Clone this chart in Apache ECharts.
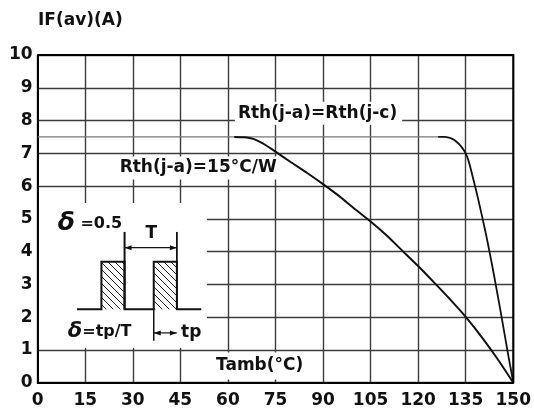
<!DOCTYPE html>
<html><head><meta charset="utf-8">
<script src="https://cdn.jsdelivr.net/npm/echarts@6/dist/echarts.min.js"></script>
<style>html,body{margin:0;padding:0;background:#fff}#c{width:534px;height:418px}</style>
</head><body><div id="c"></div>
<script>
// ---- data ----
const xTicks = [0, 15, 30, 45, 60, 75, 90, 105, 120, 135, 150];
const yTicks = [0, 1, 2, 3, 4, 5, 6, 7, 8, 9, 10];
// Rth(j-a)=15°C/W
const curveAmbient = [[62,7.5],[65,7.49],[68,7.44],[71,7.3],[75,7.05],[80,6.72],[85,6.4],[90,6.06],[95,5.7],[100,5.3],[105,4.92],[110,4.5],[115,4.03],[120,3.56],[125,3.06],[130,2.55],[135,2.01],[140,1.4],[145,0.73],[150,0]];
// Rth(j-a)=Rth(j-c)
const curveCase = [[126.3,7.5],[128,7.5],[130,7.47],[131.5,7.4],[133,7.27],[134,7.15],[135,7.0],[135.8,6.8],[136.6,6.52],[137.5,6.17],[138.5,5.78],[139.5,5.36],[140.5,4.93],[141.5,4.48],[142.5,4.0],[143.5,3.5],[144.5,2.98],[145.5,2.45],[146.5,1.9],[147.5,1.35],[148.5,0.8],[149.3,0.38],[150,0]];
const refLevel = [[0,7.5],[126.3,7.5]];
// inset pulse diagram (in axis units)
const pulseTrain = [[12.4,2.24],[20.1,2.24],[20.1,3.69],[27.4,3.69],[27.4,2.24],[36.6,2.24],[36.6,3.69],[43.9,3.69],[43.9,2.24],[51.6,2.24]];
const pulse1 = [[20.1,2.24],[20.1,3.69],[27.4,3.69],[27.4,2.24]];
const pulse2 = [[36.6,2.24],[36.6,3.69],[43.9,3.69],[43.9,2.24]];
const periodMarks = {left: 27.4, right: 43.9, top: 4.6, bottom: 2.24, arrowY: 4.12};
const tpMarks = {left: 36.6, right: 43.9, bottom: 1.28, arrowY: 1.52};
const insetBox = [[0.4,1.06],[53.4,5.48]];
const texts = {
  title: 'IF(av)(A)',
  caseLabel: 'Rth(j-a)=Rth(j-c)',
  ambLabel: 'Rth(j-a)=15°C/W',
  xName: 'Tamb(°C)',
  delta: 'δ', d05: ' =0.5', dDef: '=tp/T', T: 'T', tp: 'tp'
};
const labelAnchors = {caseLabel:[62.2,8.22], ambLabel:[24.9,6.55], xName:[55.3,0.51], delta1:[6.3,4.85], T:[35.8,4.56], delta2:[9.5,1.55], tp:[45.2,1.52]};

const FONT = 'DejaVu Sans';
const chart = echarts.init(document.getElementById('c'));
const line = (d, w, c, s) => ({type:'line', data:d, showSymbol:false, symbol:'none', smooth:s||false, lineStyle:{color:c, width:w}, z:3, silent:true, animation:false});
chart.setOption({
  animation:false,
  backgroundColor:'#fff',
  title:{text:texts.title, left:33, top:7, textStyle:{fontFamily:FONT, fontWeight:'bold', fontSize:17, color:'#111'}},
  grid:{left:37.7, right:18, top:55, bottom:35.3},
  xAxis:{type:'value', min:0, max:150, interval:15,
    axisLine:{show:true, onZero:false, lineStyle:{color:'#000', width:2}},
    axisTick:{show:false},
    axisLabel:{fontFamily:FONT, fontWeight:'bold', fontSize:17, color:'#111', margin:9,
      formatter:v => xTicks.includes(v) ? String(v) : ''},
    splitLine:{show:true, lineStyle:{color:'#3c3c3c', width:1.4}}},
  yAxis:{type:'value', min:0, max:10, interval:1,
    axisLine:{show:true, onZero:false, lineStyle:{color:'#000', width:2}},
    axisTick:{show:false},
    axisLabel:{fontFamily:FONT, fontWeight:'bold', fontSize:17, color:'#111', margin:5,
      formatter:v => yTicks.includes(v) ? String(v) : ''},
    splitLine:{show:true, lineStyle:{color:'#3c3c3c', width:1.4}}},
  series:[
    line(refLevel, 1.2, '#777'),
    line(curveAmbient, 2, '#111', 0.2),
    line(curveCase, 1.8, '#111', 0.3)
  ]
});
const P = (x,y) => chart.convertToPixel({gridIndex:0}, [x,y]);

function hatch(){
  const c = document.createElement('canvas'); c.width = 7; c.height = 7;
  const g = c.getContext('2d'); g.strokeStyle = '#222'; g.lineWidth = 1;
  g.beginPath(); g.moveTo(0,0); g.lineTo(7,7); g.moveTo(-1,6); g.lineTo(1,8); g.moveTo(6,-1); g.lineTo(8,1); g.stroke();
  return c;
}
const pat = {image: hatch(), repeat:'repeat'};
const gfx = [];
const tl = P(0,10), br = P(150,0);
gfx.push({type:'polyline', z:10, shape:{points:[[tl[0],tl[1]],[br[0],tl[1]],[br[0],br[1]]]}, style:{stroke:'#000', lineWidth:2, fill:null}});
const b0 = P(insetBox[0][0], insetBox[1][1]), b1 = P(insetBox[1][0], insetBox[0][1]);
gfx.push({type:'rect', z:5, shape:{x:b0[0], y:b0[1], width:b1[0]-b0[0], height:b1[1]-b0[1]}, style:{fill:'#fff'}});
[pulse1, pulse2].forEach(p => gfx.push({type:'polygon', z:6, shape:{points:p.map(q=>P(q[0],q[1]))}, style:{fill:pat, stroke:null}}));
gfx.push({type:'polyline', z:7, shape:{points:pulseTrain.map(q=>P(q[0],q[1]))}, style:{stroke:'#111', lineWidth:2, fill:null}});
const vbar = (x,y0,y1,w) => ({type:'line', z:7, shape:{x1:P(x,y0)[0], y1:P(x,y0)[1], x2:P(x,y1)[0], y2:P(x,y1)[1]}, style:{stroke:'#111', lineWidth:w||1.5}});
gfx.push(vbar(periodMarks.left, periodMarks.bottom, periodMarks.top, 2));
gfx.push(vbar(periodMarks.right, periodMarks.bottom, periodMarks.top, 1.8));
gfx.push(vbar(tpMarks.left, 2.24, tpMarks.bottom, 1.5));
function harrow(x0, x1, y){
  const a = P(x0,y), b = P(x1,y);
  gfx.push({type:'line', z:7, shape:{x1:a[0], y1:a[1], x2:b[0], y2:b[1]}, style:{stroke:'#111', lineWidth:1.2}});
  gfx.push({type:'polygon', z:7, shape:{points:[[a[0],a[1]],[a[0]+7,a[1]-2.5],[a[0]+7,a[1]+2.5]]}, style:{fill:'#111'}});
  gfx.push({type:'polygon', z:7, shape:{points:[[b[0],b[1]],[b[0]-7,b[1]-2.5],[b[0]-7,b[1]+2.5]]}, style:{fill:'#111'}});
}
harrow(periodMarks.left, periodMarks.right, periodMarks.arrowY);
harrow(tpMarks.left, tpMarks.right, tpMarks.arrowY);
function txt(key, str, size, align, opts){
  const p = P(labelAnchors[key][0], labelAnchors[key][1]);
  gfx.push({type:'text', z:8, x:p[0], y:p[1], style:Object.assign({text:str, fill:'#111', font:'bold '+size+'px "'+FONT+'"', align:align||'left', verticalAlign:'middle'}, opts||{})});
}
txt('caseLabel', texts.caseLabel, 17, 'left', {backgroundColor:'#fff', padding:[3,5,3,3]});
txt('ambLabel', texts.ambLabel, 17, 'left', {backgroundColor:'#fff', padding:[3,3,3,3]});
txt('xName', texts.xName, 17, 'left', {backgroundColor:'#fff', padding:[5,3,5,3]});
txt('T', texts.T, 17, 'center');
txt('tp', texts.tp, 17, 'left');
function deltaText(key, rest, dsize){
  const p = P(labelAnchors[key][0], labelAnchors[key][1]);
  gfx.push({type:'text', z:8, x:p[0], y:p[1], style:{
    text:'{d|'+texts.delta+'}{r|'+rest+'}', verticalAlign:'middle', align:'left',
    rich:{d:{font:'italic bold '+dsize+'px "'+FONT+'"', fill:'#111'}, r:{font:'bold 16px "'+FONT+'"', fill:'#111'}}}});
}
deltaText('delta1', texts.d05, 25);
deltaText('delta2', texts.dDef, 21);
chart.setOption({graphic:{elements:gfx}});
</script></body></html>
